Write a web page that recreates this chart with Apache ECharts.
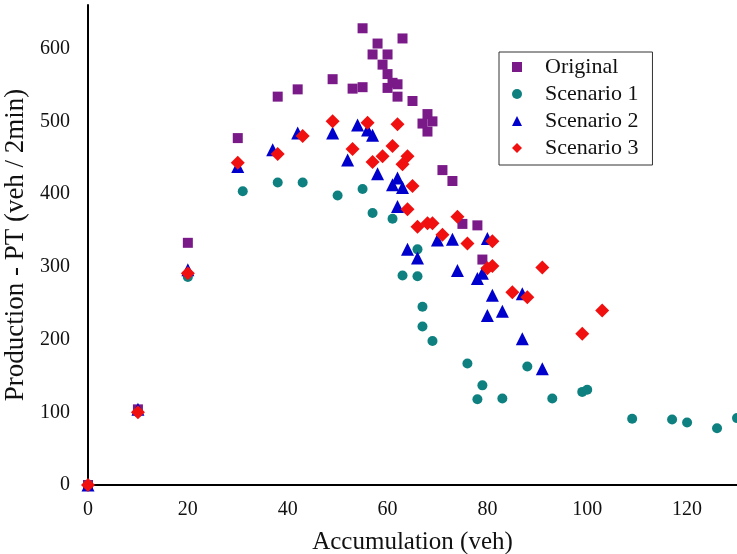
<!DOCTYPE html>
<html>
<head>
<meta charset="utf-8">
<title>Production vs Accumulation</title>
<script src="https://cdn.jsdelivr.net/npm/echarts@6/dist/echarts.min.js"></script>
<style>
html,body{margin:0;padding:0;background:#fff;}
#chart{width:737px;height:554px;}
</style>
</head>
<body>
<div id="chart"></div>
<script>
// data: [accumulation (veh), production (veh / 2min)]
var original = [[0,0],[10,104],[20,333],[30,477],[38,534],[42,544],[49,558],[53,545],[55,547],[55,628],
  [57,592],[58,607],[59,578],[60,592],[60,565],[60,546],[61,553],[62,551],[62,534],[63,614],[65,528],
  [67,497],[68,510],[69,500],[68,486],[71,433],[73,418],[75,359],[78,357],[79,310]];
var scenario1 = [[0,0],[10,100],[20,286],[31,404],[38,416],[43,416],[50,398],[55,407],[57,374],[61,366],
  [63,288],[66,324],[66,287],[67,245],[67,218],[69,198],[76,167],[79,137],[78,118],[83,119],[88,163],
  [93,119],[99,128],[100,131],[109,91],[117,90],[120,86],[126,78],[130,92]];
var scenario2 = [[0,0],[10,104],[20,296],[30,438],[37,461],[42,484],[49,484],[52,447],[54,495],[56,488],
  [57,481],[58,428],[61,413],[62,422],[62,383],[63,409],[64,324],[66,312],[70,337],[73,338],[74,295],
  [78,284],[79,291],[80,339],[80,233],[81,261],[83,239],[87,263],[87,201],[91,160]];
var scenario3 = [[0,0],[10,100],[20,291],[30,443],[38,455],[43,480],[49,500],[53,462],[56,498],[57,444],
  [59,452],[61,466],[62,496],[63,441],[64,452],[65,411],[64,379],[66,355],[68,360],[69,360],[71,344],
  [74,369],[76,332],[81,335],[80,298],[81,301],[85,265],[88,258],[91,299],[99,208],[103,240]];
var seriesNames = ['Original', 'Scenario 1', 'Scenario 2', 'Scenario 3'];

var font = 'Liberation Serif';
var chart = echarts.init(document.getElementById('chart'));

option = {
  backgroundColor: '#fff',
  animation: false,
  grid: { left: 88, right: 0, top: 5, bottom: 69, containLabel: false, outerBoundsMode: 'none' },
  legend: {
    orient: 'vertical',
    left: 499, top: 52,
    padding: [4, 14, 6, 13],
    itemWidth: 10, itemHeight: 10,
    itemGap: 5,
    borderColor: '#333', borderWidth: 1,
    backgroundColor: '#fff',
    textStyle: { fontFamily: font, fontSize: 22, color: '#111', lineHeight: 22, padding: [0, 0, 0, 18] },
    data: seriesNames
  },
  xAxis: {
    type: 'value', min: 0, max: 130, interval: 20,
    name: 'Accumulation (veh)', nameLocation: 'middle', nameGap: 45,
    nameTextStyle: { fontFamily: font, fontSize: 25, color: '#111' },
    axisLine: { lineStyle: { color: '#000', width: 2 } },
    axisTick: { show: false },
    splitLine: { show: false },
    axisLabel: {
      fontFamily: font, fontSize: 20, color: '#111', margin: 15,
      formatter: function (v) { return v % 20 === 0 ? v : ''; }
    }
  },
  yAxis: {
    type: 'value', min: 0, max: 660, interval: 100,
    name: 'Production - PT (veh / 2min)', nameLocation: 'middle', nameGap: 55,
    nameTextStyle: { fontFamily: font, fontSize: 27, color: '#111' },
    axisLine: { show: true, lineStyle: { color: '#000', width: 2 } },
    axisTick: { show: false },
    splitLine: { show: false },
    axisLabel: {
      fontFamily: font, fontSize: 20, color: '#111', margin: 18,
      formatter: function (v) { return v % 100 === 0 ? v : ''; }
    }
  },
  series: [
    { name: 'Original', type: 'scatter', symbol: 'rect', symbolSize: 10,
      itemStyle: { color: '#7a1a88', opacity: 1 }, data: original },
    { name: 'Scenario 1', type: 'scatter', symbol: 'circle', symbolSize: 10,
      itemStyle: { color: '#0f8080', opacity: 1 }, data: scenario1 },
    { name: 'Scenario 2', type: 'scatter', symbol: 'triangle', symbolSize: 13,
      itemStyle: { color: '#0000cc', opacity: 1 }, data: scenario2 },
    { name: 'Scenario 3', type: 'scatter', symbol: 'diamond', symbolSize: 14,
      itemStyle: { color: '#f01010', opacity: 1 }, data: scenario3 }
  ]
};
chart.setOption(option);
</script>
</body>
</html>
